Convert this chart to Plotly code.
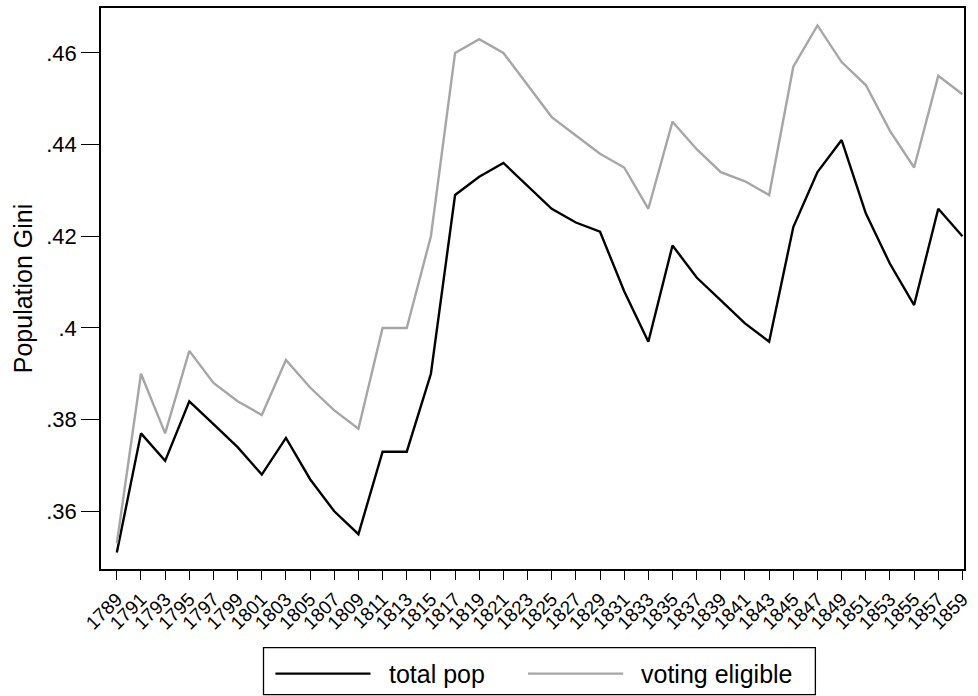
import plotly.graph_objects as go

years = list(range(1789, 1860, 2))
total_pop = [0.351, 0.377, 0.371, 0.384, 0.379, 0.374, 0.368, 0.376, 0.367, 0.360,
             0.355, 0.373, 0.373, 0.390, 0.429, 0.433, 0.436, 0.431, 0.426, 0.423,
             0.421, 0.408, 0.397, 0.418, 0.411, 0.406, 0.401, 0.397, 0.422, 0.434,
             0.441, 0.425, 0.414, 0.405, 0.426, 0.420]
voting_eligible = [0.353, 0.390, 0.377, 0.395, 0.388, 0.384, 0.381, 0.393, 0.387, 0.382,
                   0.378, 0.400, 0.400, 0.420, 0.460, 0.463, 0.460, 0.453, 0.446, 0.442,
                   0.438, 0.435, 0.426, 0.445, 0.439, 0.434, 0.432, 0.429, 0.457, 0.466,
                   0.458, 0.453, 0.443, 0.435, 0.455, 0.451]
y_tickvals = [0.36, 0.38, 0.40, 0.42, 0.44, 0.46]
y_ticktext = [".36", ".38", ".4", ".42", ".44", ".46"]
series_names = ["total pop", "voting eligible"]
series_colors = ["#000000", "#a6a6a6"]

FONT = "Liberation Sans, Arial, Helvetica, sans-serif"

fig = go.Figure()
for name, vals, col in zip(series_names, [total_pop, voting_eligible], series_colors):
    fig.add_trace(go.Scatter(x=years, y=vals, mode="lines", name=name,
                             line=dict(color=col, width=2.4), showlegend=False,
                             hoverinfo="skip"))

W, H = 978, 696
L, R, T, B = 101, 6, 6, 127
pw, ph = W - L - R, H - T - B

def px(xp):
    return (xp - L) / pw

def py(yp):
    return (H - B - yp) / ph

fig.update_layout(
    width=W, height=H,
    margin=dict(l=L, r=R, t=T, b=B),
    paper_bgcolor="white", plot_bgcolor="white",
    font=dict(family=FONT, color="black"),
    showlegend=False,
)
fig.update_xaxes(
    range=[1787.69, 1859.13],
    tickmode="array", tickvals=years, ticktext=[str(y) for y in years],
    tickangle=-45, ticks="outside", ticklen=9, tickwidth=1.2, tickcolor="black",
    tickfont=dict(size=19, family=FONT), ticklabelstandoff=1,
    showline=True, linecolor="black", linewidth=1.5, mirror=True,
    showgrid=False, zeroline=False,
)
fig.update_yaxes(
    range=[0.34741, 0.46980],
    tickmode="array", tickvals=y_tickvals, ticktext=y_ticktext,
    ticks="outside", ticklen=18, tickwidth=1.2, tickcolor="black",
    tickfont=dict(size=22, family=FONT),
    showline=True, linecolor="black", linewidth=1.5, mirror=True,
    showgrid=False, zeroline=False,
)

# y-axis title
fig.add_annotation(text="Population Gini", xref="paper", yref="paper",
                   x=px(22), y=0.5, textangle=-90, showarrow=False,
                   font=dict(size=25, family=FONT), xanchor="center", yanchor="middle")

# legend box
fig.add_shape(type="rect", xref="paper", yref="paper",
              x0=px(265), x1=px(822), y0=py(648), y1=py(695),
              line=dict(color="black", width=1.3), fillcolor="white")
leg = [(277, 373, 390), (532, 628, 644)]
for (x0, x1, tx), name, col in zip(leg, series_names, series_colors):
    fig.add_shape(type="line", xref="paper", yref="paper",
                  x0=px(x0), x1=px(x1), y0=py(674), y1=py(674),
                  line=dict(color=col, width=2.4))
    fig.add_annotation(text=name, xref="paper", yref="paper",
                       x=px(tx), y=py(674), showarrow=False, xanchor="left",
                       yanchor="middle", font=dict(size=25, family=FONT))

fig.write_html("out.html", config={"displayModeBar": False},
               post_script="document.body.style.margin='0px';document.body.style.overflow='hidden';")
